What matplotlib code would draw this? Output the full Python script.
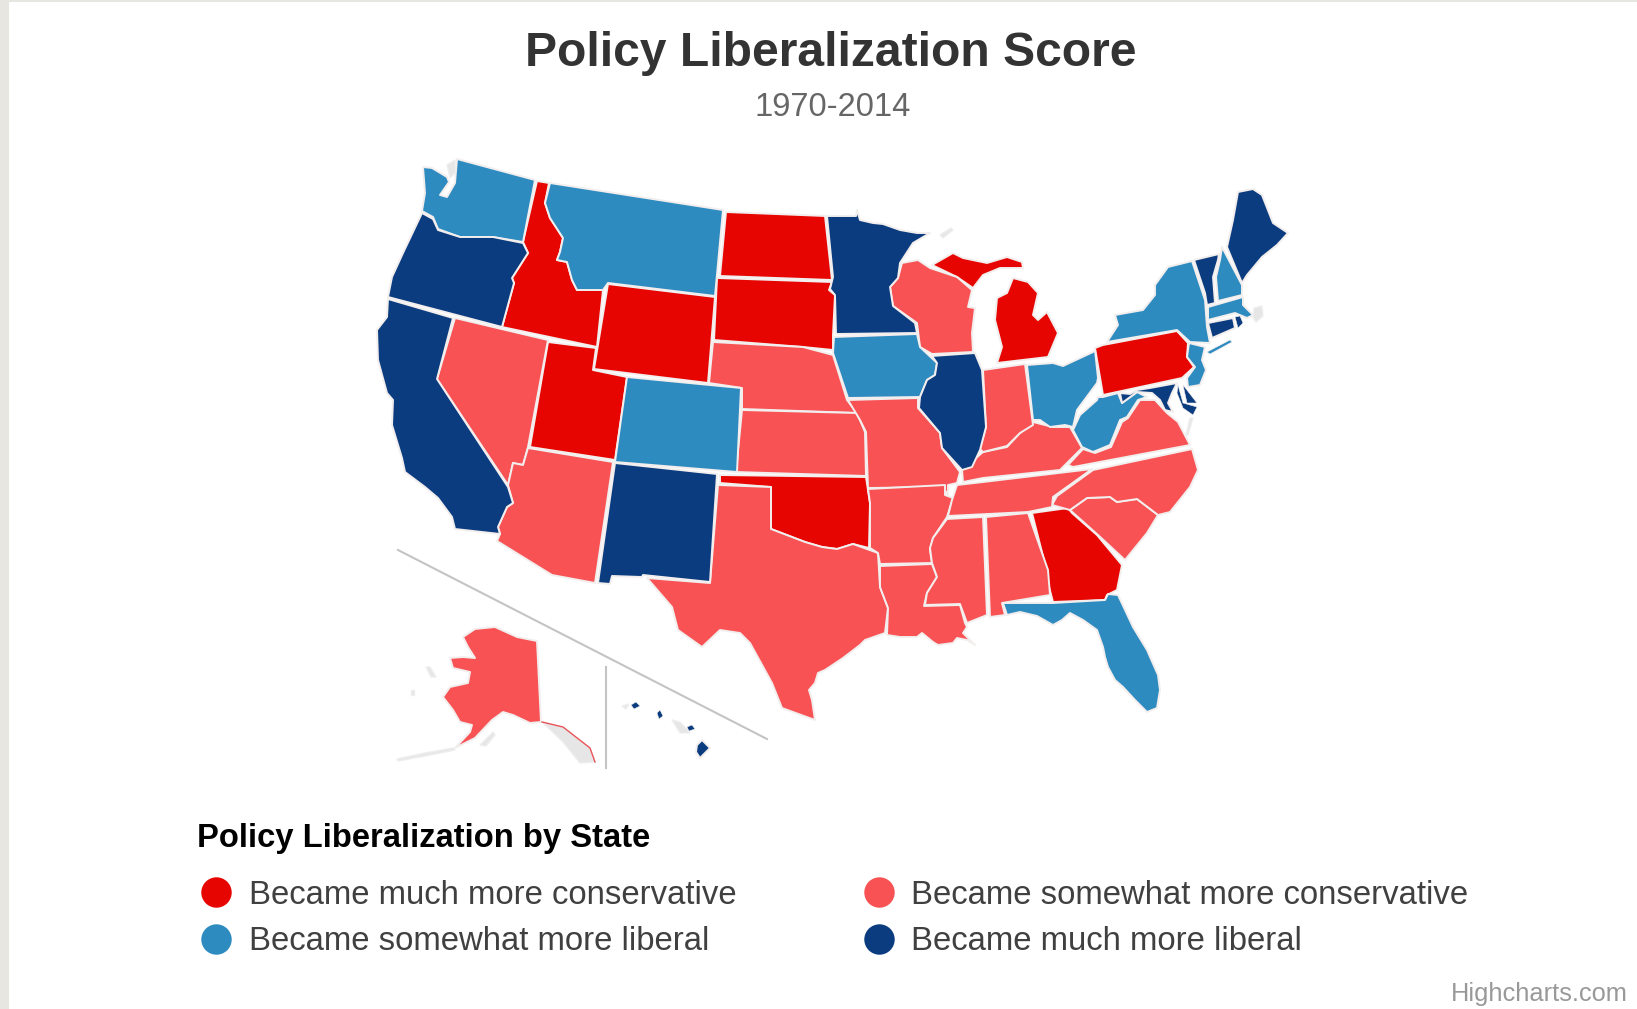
import matplotlib
matplotlib.use('Agg')
import matplotlib.pyplot as plt
from matplotlib.patches import Rectangle

plt.rcParams['font.family'] = ['Liberation Sans', 'DejaVu Sans']

# outlines, in image pixels
WA = [(457,159),(535,180),(523,242),(493,237),(460,237),(438,229),(433,217),(422,211),(425,193),(423,167),(432,168),(447,177),(449,182),(440,195),(447,197),(455,183)]
OR = [(422,213),(433,219),(438,230),(460,237),(493,237),(523,243),(528,253),(512,278),(514,283),(502,327),(388,297),(392,277),(403,253)]
CA = [(388,299),(453,318),(437,379),(508,487),(513,503),(507,507),(498,527),(500,534),(455,529),(452,517),(438,498),(425,487),(405,472),(402,458),(392,425),(393,400),(387,393),(378,360),(377,330),(387,317)]
NV = [(455,318),(548,340),(528,447),(523,465),(513,463),(508,485),(437,379)]
ID = [(537,181),(549,183),(545,203),(550,218),(563,238),(560,252),(557,260),(567,262),(572,280),(577,290),(603,290),(597,347),(502,327),(514,283),(512,278),(528,253),(523,242)]
MT = [(550,183),(723,210),(715,296),(608,283),(603,290),(577,290),(572,280),(567,262),(557,260),(560,252),(563,238),(550,218),(545,203)]
WY = [(608,284),(715,297),(708,383),(594,369)]
UT = [(548,342),(596,348),(593,370),(627,377),(615,460),(530,447)]
CO = [(627,377),(741,388),(737,472),(615,462)]
AZ = [(528,448),(613,462),(595,583),(552,575),(497,541),(500,534),(498,527),(507,507),(513,503),(508,485),(513,463),(523,465)]
NM = [(615,463),(717,474),(710,582),(643,575),(642,577),(612,576),(610,584),(598,583)]
TX = [(718,485),(771,487),(771,529),(805,542),(822,547),(837,549),(853,544),(878,553),(880,587),(888,608),(885,633),(865,640),(860,645),(843,658),(825,670),(818,673),(815,683),(809,690),(812,700),(815,720),(782,708),(772,683),(750,643),(740,633),(720,630),(702,647),(678,630),(672,607),(647,578),(710,583)]
OK = [(720,475),(866,477),(870,503),(869,548),(853,544),(837,549),(822,547),(805,542),(771,529),(771,487),(720,483)]
KS = [(742,410),(857,413),(865,432),(866,476),(736,472)]
NE = [(713,342),(803,347),(833,355),(847,400),(857,413),(742,409),(742,388),(709,383)]
SD = [(717,278),(832,282),(829,290),(835,295),(833,335),(833,350),(803,347),(714,340)]
ND = [(726,212),(825,216),(832,280),(720,276)]
MN = [(827,216),(856,216),(857,210),(860,220),(873,223),(883,224),(900,230),(917,233),(930,233),(913,243),(900,263),(898,278),(890,287),(893,306),(915,323),(917,333),(836,334),(835,295),(830,289),(833,277)]
IA = [(834,337),(917,334),(920,347),(937,363),(935,375),(927,380),(920,397),(848,398),(833,353)]
MO = [(848,400),(918,398),(918,408),(940,433),(942,448),(960,472),(957,483),(948,485),(948,495),(943,487),(868,488),(866,432),(860,420)]
AR = [(868,489),(945,485),(945,495),(953,498),(947,517),(933,538),(930,550),(932,563),(880,564),(878,553),(870,548),(870,503)]
LA = [(880,566),(932,564),(937,577),(927,593),(924,606),(960,605),(965,623),(967,627),(963,633),(975,645),(967,640),(957,638),(953,643),(938,645),(933,642),(922,633),(917,637),(900,637),(887,635),(888,608),(880,587)]
MS = [(947,519),(983,517),(987,615),(967,623),(960,604),(925,605),(927,593),(937,577),(932,563),(930,548),(933,538)]
AL = [(986,517),(1028,513),(1048,570),(1050,595),(1002,603),(1005,615),(990,617)]
GA = [(1032,513),(1068,508),(1072,513),(1097,535),(1122,565),(1117,590),(1107,595),(1105,600),(1053,602),(1048,583),(1047,572)]
FL = [(1003,603),(1053,603),(1105,600),(1108,594),(1118,595),(1133,627),(1147,650),(1158,675),(1160,690),(1157,708),(1147,712),(1135,700),(1123,687),(1115,680),(1108,667),(1105,657),(1103,647),(1097,630),(1083,620),(1070,613),(1062,620),(1053,625),(1037,616),(1020,612),(1007,615)]
SC = [(1070,510),(1087,498),(1110,497),(1117,502),(1137,499),(1158,515),(1147,533),(1125,560),(1098,535)]
NC = [(1052,505),(1057,496),(1093,470),(1192,449),(1198,470),(1190,487),(1170,512),(1158,515),(1137,499),(1117,502),(1110,497),(1087,498),(1070,510)]
TN = [(957,485),(983,482),(1092,469),(1053,497),(1052,507),(1028,512),(948,516),(952,500)]
KY = [(962,470),(983,452),(1007,447),(1020,433),(1033,422),(1053,427),(1070,427),(1082,448),(1060,470),(983,478),(963,482)]
IL = [(932,356),(975,353),(982,370),(986,427),(980,450),(972,467),(962,470),(942,448),(940,433),(919,408),(920,397),(927,380),(935,375),(937,363)]
WI = [(902,263),(918,260),(930,268),(957,277),(972,290),(968,307),(975,308),(972,333),(973,352),(932,354),(920,347),(917,323),(893,306),(890,287),(898,278)]
MI_UP = [(932,265),(953,253),(963,258),(987,263),(1007,257),(1022,262),(1023,268),(1000,268),(983,275),(973,288),(957,277)]
MI_LP = [(1013,278),(1028,282),(1038,293),(1033,315),(1038,320),(1047,312),(1058,333),(1048,357),(997,363),(1002,347),(995,320),(997,298),(1007,293)]
IN = [(983,370),(1025,364),(1033,425),(1020,433),(1007,446),(983,452),(980,449),(986,427)]
OH = [(1027,365),(1053,363),(1063,366),(1093,352),(1095,350),(1098,378),(1097,383),(1077,410),(1073,427),(1065,425),(1050,427),(1040,420),(1033,420)]
PA = [(1095,348),(1103,345),(1177,331),(1188,343),(1187,357),(1194,367),(1182,378),(1103,395)]
NY = [(1107,342),(1118,325),(1115,315),(1143,310),(1155,295),(1155,285),(1168,267),(1192,261),(1205,300),(1207,327),(1210,343),(1190,342),(1177,330)]
NY_LI = [(1207,352),(1230,340),(1232,342),(1210,354)]
NJ = [(1189,343),(1205,347),(1202,360),(1206,370),(1200,385),(1188,387),(1187,378),(1195,367),(1187,357)]
VT = [(1194,260),(1219,254),(1218,260),(1213,277),(1215,303),(1207,305),(1205,293)]
NH = [(1222,247),(1242,285),(1242,295),(1218,301),(1216,277),(1220,260)]
ME = [(1238,192),(1253,189),(1262,195),(1273,223),(1288,233),(1277,245),(1262,257),(1247,275),(1242,283),(1227,247),(1233,220)]
MA = [(1208,307),(1243,297),(1243,305),(1253,315),(1247,318),(1235,313),(1208,320)]
CT = [(1208,323),(1233,318),(1235,328),(1212,338)]
RI = [(1235,317),(1240,316),(1243,323),(1238,328)]
MD = [(1120,393),(1130,394),(1137,390),(1150,388),(1177,383),(1172,393),(1168,403),(1173,412),(1165,410),(1160,400),(1152,393),(1137,392),(1122,403)]
MD_E = [(1178,385),(1183,403),(1197,407),(1193,415),(1183,408),(1177,393)]
DE = [(1183,385),(1197,403),(1187,403)]
WV = [(1098,397),(1103,397),(1118,393),(1122,403),(1137,392),(1147,397),(1138,400),(1127,417),(1120,420),(1110,445),(1093,452),(1082,447),(1073,430),(1080,415),(1097,400)]
VA = [(1083,449),(1095,453),(1111,447),(1122,422),(1128,418),(1140,400),(1155,400),(1167,413),(1178,422),(1190,445),(1073,467),(1068,465)]
AK = [(463,637),(475,629),(495,627),(517,637),(537,641),(541,722),(530,723),(513,715),(503,712),(492,720),(475,738),(455,748),(470,732),(472,725),(460,722),(453,710),(443,697),(450,687),(468,683),(470,672),(453,668),(450,658),(463,657),(475,658),(468,647)]
HI_BIG = [(697,745),(702,740),(710,748),(700,758),(696,752)]
HI_MAUI = [(687,727),(692,725),(695,729),(689,731)]
HI_OAHU = [(657,713),(660,710),(663,716),(659,719)]
HI_KAUAI = [(631,705),(636,702),(640,706),(634,709)]

# parts of the map that were left without a value
AK_PANHANDLE = [(542,722),(563,727),(590,748),(595,762),(580,763),(563,742)]
AK_ALEUTIANS = [(397,759),(425,753),(453,748),(455,750),(425,756),(398,761)]
AK_KODIAK = [(480,745),(493,732),(495,735),(486,746)]
AK_NUNIVAK = [(426,667),(430,667),(436,677),(431,677)]
AK_STLAWRENCE = [(411,690),(414,690),(414,695),(411,695)]
HI_GREY = [(672,720),(680,722),(690,733),(680,733)]
HI_NIIHAU = [(622,706),(629,704),(626,709)]
MI_ISLE = [(940,235),(951,228),(953,230),(943,238)]
CAPE_COD = [(1254,308),(1262,306),(1263,316),(1256,322),(1253,318)]
PUGET = [(447,165),(455,160),(456,172),(450,178)]
VA_SHORE = [(1190,418),(1193,418),(1188,435),(1186,435)]

much_conservative = ['ID','WY','UT','ND','SD','OK','GA','PA','MI_UP','MI_LP']
somewhat_conservative = ['NV','AZ','TX','NE','KS','MO','AR','LA','MS','AL','SC','NC','TN','KY','IN','WI','VA','AK']
somewhat_liberal = ['WA','MT','CO','IA','OH','WV','NY','NY_LI','NJ','NH','MA','FL']
much_liberal = ['OR','CA','NM','MN','IL','VT','ME','CT','RI','MD','MD_E','DE','HI_BIG','HI_MAUI','HI_OAHU','HI_KAUAI']
no_data = [AK_PANHANDLE, AK_ALEUTIANS, AK_KODIAK, AK_NUNIVAK, AK_STLAWRENCE, HI_GREY, HI_NIIHAU, MI_ISLE, CAPE_COD, PUGET, VA_SHORE]
small_shapes = ['NY_LI','RI','MD_E','DE','HI_MAUI','HI_OAHU','HI_KAUAI']

legend_labels = ['Became much more conservative', 'Became somewhat more conservative',
                 'Became somewhat more liberal', 'Became much more liberal']
colors = ['#e60500', '#f85254', '#2e8bc0', '#0b3c7f']

fig = plt.figure(figsize=(16.37, 10.09), dpi=100, facecolor='white')
ax = fig.add_axes([0, 0, 1, 1])
ax.set_xlim(0, 1637)
ax.set_ylim(1009, 0)
ax.axis('off')

# page background showing at the left and top
ax.add_patch(Rectangle((0, 0), 9, 1009, color='#e8e6e1', lw=0))
ax.add_patch(Rectangle((0, 0), 1637, 2, color='#e8e6e1', lw=0))

groups = [much_conservative, somewhat_conservative, somewhat_liberal, much_liberal]
for group, color in zip(groups, colors):
    for name in group:
        outline = globals()[name]
        width = 0.4 if name in small_shapes else 1.4 # a full border would swallow the tiny ones
        ax.fill(*zip(*outline), facecolor=color, edgecolor='#f3eeee', lw=width, joinstyle='round', zorder=2)

for outline in no_data:
    ax.fill(*zip(*outline), facecolor='#e6e6e6', edgecolor='#eeeeee', lw=1, zorder=1)
ax.plot(*zip(*AK_PANHANDLE[:4]), color='#e9555a', lw=1, zorder=2)

# inset dividers
ax.plot([398, 767], [550, 739], color='#c4c4c4', lw=1.5, zorder=1)
ax.plot([606, 606], [667, 768], color='#c4c4c4', lw=1.5, zorder=1)

ax.text(831, 53, 'Policy Liberalization Score', ha='center', va='center', fontsize=34.6, fontweight='bold', color='#333333')
ax.text(833, 108, '1970-2014', ha='center', va='center', fontsize=23.5, color='#666666')

ax.text(197, 839, 'Policy Liberalization by State', ha='left', va='center', fontsize=23.6, fontweight='bold', color='#000000')
legend_x = [216, 879, 216, 879]
legend_y = [892, 892, 939, 939]
text_x = [249, 911, 249, 911]
for lx, ly, tx, label, color in zip(legend_x, legend_y, text_x, legend_labels, colors):
    ax.scatter([lx], [ly], s=480, color=color, lw=0, zorder=3)
    ax.text(tx, ly + 3, label, ha='left', va='center', fontsize=23.7, color='#404040')

ax.text(1628, 994, 'Highcharts.com', ha='right', va='center', fontsize=18.3, color='#999999')

fig.savefig('out.png', dpi=100)
